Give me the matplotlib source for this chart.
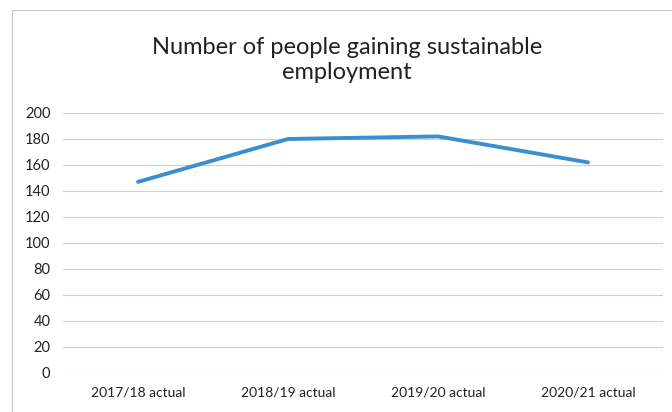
import matplotlib
matplotlib.use("Agg")
import matplotlib.pyplot as plt
from matplotlib.patches import Rectangle

categories = ["2017/18 actual", "2018/19 actual", "2019/20 actual", "2020/21 actual"]
values = [147, 180, 182, 162]
yticks = list(range(0, 201, 20))

plt.rcParams["font.family"] = ["Lato", "DejaVu Sans"]

fig = plt.figure(figsize=(6.72, 4.12), dpi=100)
fig.patch.set_facecolor("white")

# chart frame
fig.add_artist(Rectangle((12 / 672, -0.05), 1.2, (412 - 10) / 412 + 0.05,
                         transform=fig.transFigure, fill=False,
                         edgecolor="#c8c8c8", linewidth=0.8))

ax = fig.add_axes([63 / 672, (412 - 373) / 412, 600 / 672, 260 / 412])
x = list(range(len(categories)))
ax.plot(x, values, color="#3a8fd0", linewidth=2.8, solid_capstyle="round")

ax.set_xlim(-0.5, len(categories) - 0.5)
ax.set_ylim(0, 200)
ax.set_yticks(yticks)
ax.set_xticks(x)
ax.set_xticklabels(categories)
ax.grid(axis="y", color="#d0d0d0", linewidth=0.8)
ax.set_axisbelow(True)
for s in ax.spines.values():
    s.set_visible(False)
ax.tick_params(length=0, labelsize=10, colors="#222222", pad=10)
ax.tick_params(axis="y", labelsize=10.5, pad=9)

fig.text(0.516, 0.855, "Number of people gaining sustainable\nemployment",
         ha="center", va="center", fontsize=17, color="#222222", linespacing=1.22)

fig.savefig("out.png", dpi=100, facecolor="white")
